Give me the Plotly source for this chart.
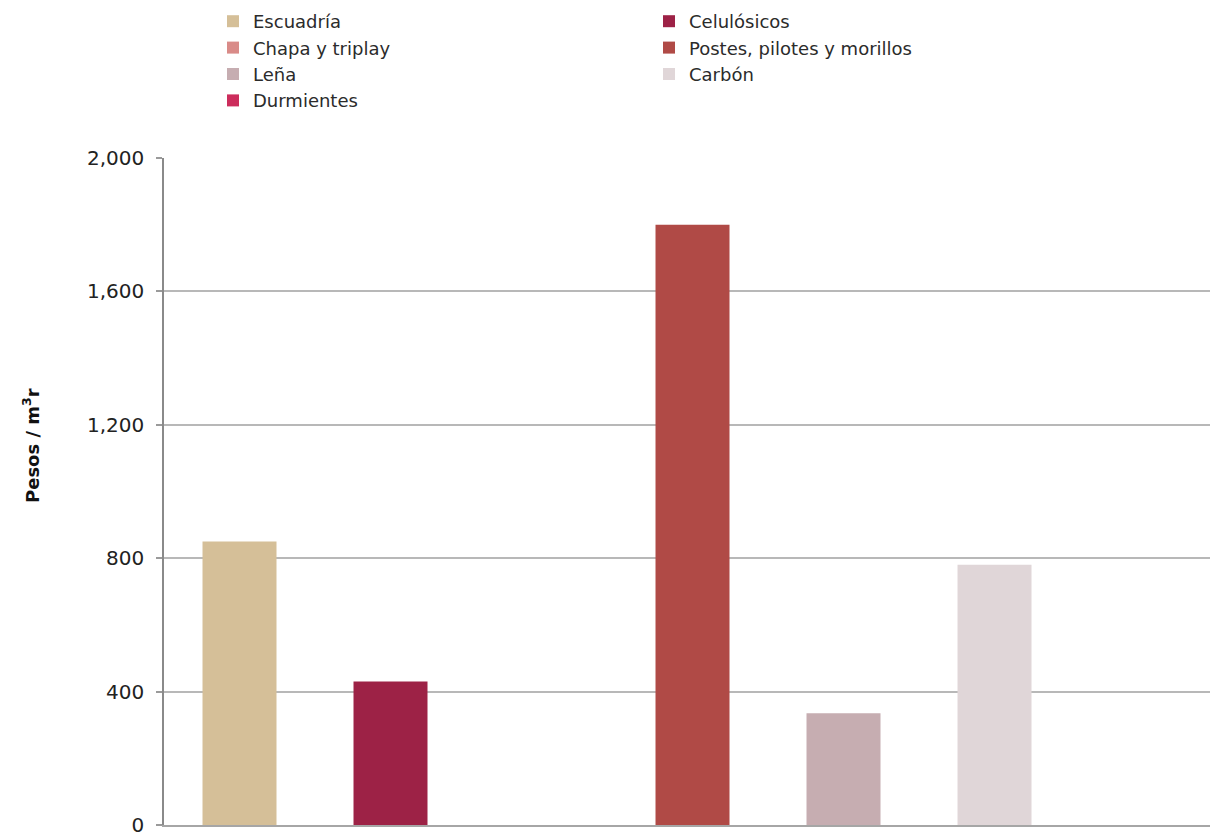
import plotly.graph_objects as go

categories = ["Escuadría", "Celulósicos", "Chapa y triplay", "Postes, pilotes y morillos",
              "Leña", "Carbón", "Durmientes"]
values = [850, 430, 0, 1800, 335, 780, 0]
colors = ["#D5BF98", "#9D2246", "#D98B88", "#B04A46", "#C6ADB1", "#E0D6D8", "#CC2D5C"]
legend_ids = ["legend", "legend2", "legend", "legend2", "legend", "legend2", "legend"]
y_ticks = [0, 400, 800, 1200, 1600, 2000]
y_title = "Pesos / m<sup>3</sup>r"

FONT = "DejaVu Sans"

fig = go.Figure()
for cat, val, col, lg in zip(categories, values, colors, legend_ids):
    fig.add_trace(go.Bar(
        x=[cat], y=[val], name=cat, width=0.49,
        marker=dict(color=col, line=dict(width=0)),
        legend=lg,
    ))

W, H = 1210, 832
ml, mr, mt, mb = 164, 0, 158, 7
pw = W - ml - mr
ph = H - mt - mb

def px_x(x):
    return (x - ml) / pw

def px_y(y):
    return (H - mb - y) / ph

legend_common = dict(
    orientation="v", xanchor="left", yanchor="top",
    font=dict(family=FONT, size=18, color="#2b2b2b"),
    bgcolor="rgba(0,0,0,0)", borderwidth=0, itemclick=False,
)

fig.update_layout(
    width=W, height=H,
    margin=dict(l=ml, r=mr, t=mt, b=mb, autoexpand=False),
    paper_bgcolor="white", plot_bgcolor="white",
    barmode="overlay",
    showlegend=True,
    legend=dict(x=px_x(213), y=px_y(3), **legend_common),
    legend2=dict(x=px_x(649), y=px_y(3), **legend_common),
    xaxis=dict(
        type="category", categoryorder="array", categoryarray=categories,
        range=[-0.5, -0.5 + pw / 151.0],
        showticklabels=False, ticks="", showgrid=False,
        showline=True, linecolor="#a6a6a6", linewidth=2,
        zeroline=False,
    ),
    yaxis=dict(
        range=[0, 2000], tickvals=y_ticks, tickformat=",",
        showgrid=True, gridcolor="#b8b8b8", gridwidth=1.5,
        showline=True, linecolor="#8a8a8a", linewidth=1.5,
        ticks="outside", ticklen=6, tickcolor="#9a9a9a", tickwidth=1.5,
        ticklabelstandoff=8, ticklabeloverflow="allow",
        tickfont=dict(family=FONT, size=20, color="#222222"),
        zeroline=False,
    ),
    annotations=[dict(
        text=y_title, xref="paper", yref="paper",
        x=px_x(31), y=px_y(446), xanchor="center", yanchor="middle",
        textangle=-90, showarrow=False,
        font=dict(family=FONT, size=18, color="#111111", weight="bold"),
    )],
)

fig.write_html("out.html", config={"displayModeBar": False},
               post_script="document.body.style.margin='0';")
